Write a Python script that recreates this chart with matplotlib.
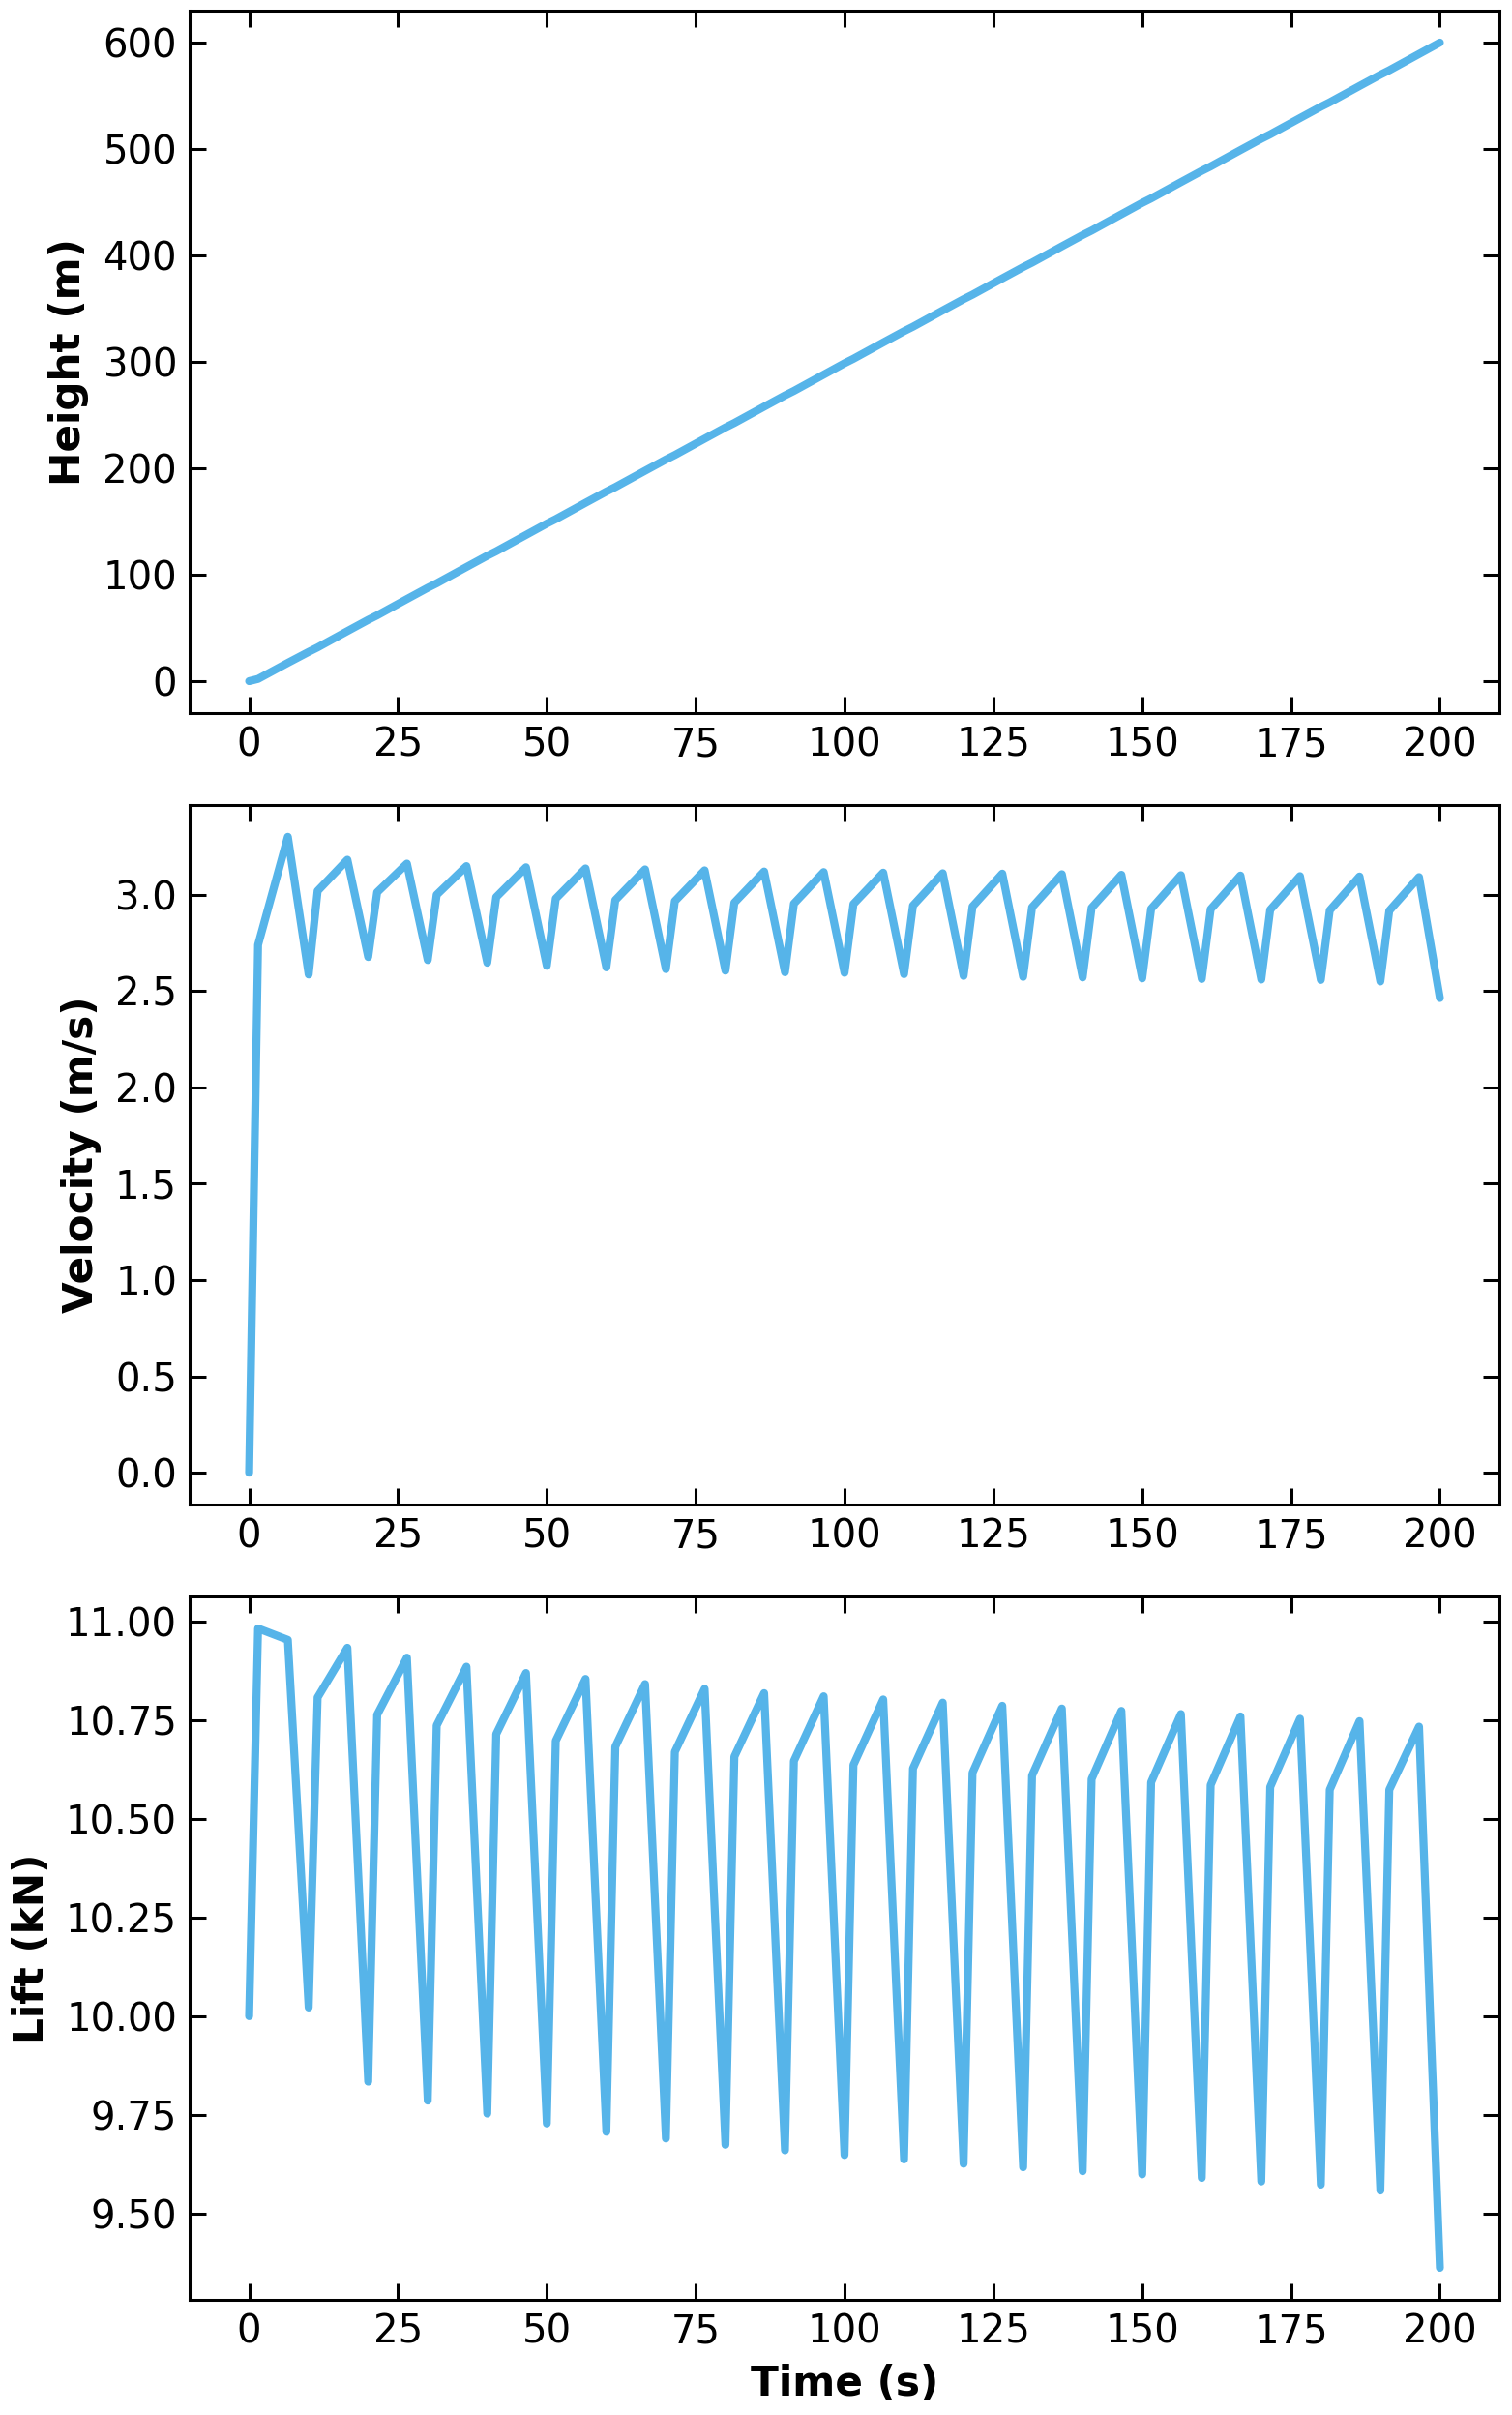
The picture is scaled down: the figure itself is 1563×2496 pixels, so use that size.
import matplotlib
matplotlib.use("Agg")
import matplotlib.pyplot as plt
from matplotlib.ticker import MultipleLocator, FormatStrFormatter

time_s = [0, 1.5, 6.5,
          10, 11.5, 16.5, 20, 21.5, 26.5, 30, 31.5, 36.5, 40, 41.5, 46.5,
          50, 51.5, 56.5, 60, 61.5, 66.5, 70, 71.5, 76.5, 80, 81.5, 86.5,
          90, 91.5, 96.5, 100, 101.5, 106.5, 110, 111.5, 116.5, 120, 121.5, 126.5,
          130, 131.5, 136.5, 140, 141.5, 146.5, 150, 151.5, 156.5, 160, 161.5, 166.5,
          170, 171.5, 176.5, 180, 181.5, 186.5, 190, 191.5, 196.5, 200]

height_m = [0, 2.1, 17.2,
            27.5, 31.7, 47.0, 57.6, 61.8, 77.1, 87.7, 91.9, 107.2, 117.8, 122.0, 137.3,
            148.0, 152.2, 167.5, 178.1, 182.3, 197.6, 208.2, 212.4, 227.7, 238.3, 242.5, 257.8,
            268.4, 272.6, 287.9, 298.6, 302.8, 318.1, 328.7, 332.9, 348.2, 358.8, 363.0, 378.3,
            388.9, 393.1, 408.4, 419.0, 423.2, 438.5, 449.2, 453.4, 468.7, 479.3, 483.5, 498.8,
            509.4, 513.6, 528.9, 539.5, 543.7, 559.0, 569.6, 573.8, 589.1, 599.8]

velocity_ms = [0.0, 2.740, 3.301,
               2.586, 3.020, 3.182, 2.677, 3.013, 3.162, 2.661, 3.000, 3.149, 2.647, 2.988, 3.143,
               2.631, 2.980, 3.137, 2.623, 2.972, 3.132, 2.614, 2.967, 3.127, 2.606, 2.959, 3.121,
               2.598, 2.954, 3.118, 2.595, 2.952, 3.115, 2.588, 2.944, 3.112, 2.579, 2.939, 3.110,
               2.574, 2.935, 3.107, 2.571, 2.932, 3.104, 2.566, 2.927, 3.102, 2.563, 2.925, 3.100,
               2.560, 2.922, 3.097, 2.558, 2.919, 3.095, 2.550, 2.917, 3.092, 2.464]

lift_kn = [10.000, 10.983, 10.954,
           10.022, 10.808, 10.934, 9.834, 10.764, 10.909, 9.786, 10.737, 10.886, 9.753, 10.715, 10.870,
           9.728, 10.698, 10.855, 9.707, 10.683, 10.842, 9.690, 10.670, 10.830, 9.674, 10.658, 10.819,
           9.660, 10.647, 10.811, 9.648, 10.637, 10.803, 9.637, 10.628, 10.795, 9.626, 10.617, 10.787,
           9.617, 10.610, 10.780, 9.607, 10.601, 10.774, 9.599, 10.593, 10.766, 9.590, 10.586, 10.760,
           9.581, 10.581, 10.754, 9.573, 10.574, 10.748, 9.558, 10.574, 10.734, 9.362]

series = [(height_m, "Height (m)"), (velocity_ms, "Velocity (m/s)"), (lift_kn, "Lift (kN)")]
xticks = [0, 25, 50, 75, 100, 125, 150, 175, 200]
ytick_steps = [100, 0.5, 0.25]

W, H = 1563, 2496
dpi = 156
fig = plt.figure(figsize=(W / dpi, H / dpi), dpi=dpi)

left = 196 / W
width = (1550 - 196) / W
boxes = [(11, 737), (832, 1555), (1650, 2377)]
color = "#56B4E9"

axes = []
for (vals, label), (top, bot), step in zip(series, boxes, ytick_steps):
    ax = fig.add_axes([left, 1 - bot / H, width, (bot - top) / H])
    ax.plot(time_s, vals, color=color, lw=3.8, solid_capstyle="round", solid_joinstyle="round")
    ax.set_xticks(xticks)
    ax.yaxis.set_major_locator(MultipleLocator(step))
    ax.tick_params(direction="in", top=True, right=True, length=8, width=1.4,
                   labelsize=18.5, pad=6)
    for sp in ax.spines.values():
        sp.set_linewidth(1.4)
    ax.set_ylabel(label, fontsize=19.5, fontweight="bold", labelpad=6.5)
    axes.append(ax)

axes[2].yaxis.set_major_formatter(FormatStrFormatter("%.2f"))
axes[-1].set_xlabel("Time (s)", fontsize=19.5, fontweight="bold", labelpad=6)

fig.savefig("out.png", dpi=dpi)
